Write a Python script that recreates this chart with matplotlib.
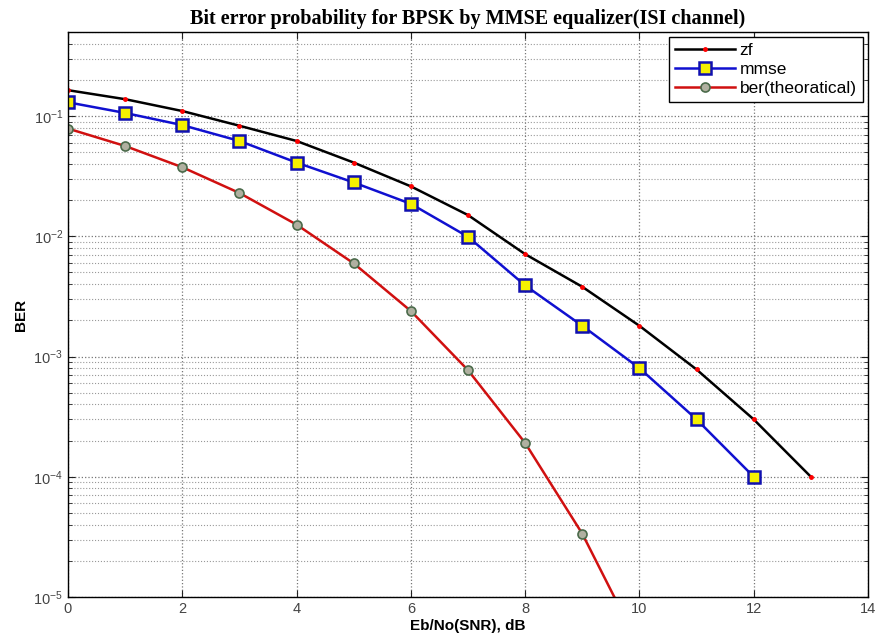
import matplotlib.pyplot as plt
from matplotlib.ticker import LogLocator, MultipleLocator, NullFormatter

# SNR points (dB)
snr_db = list(range(0, 14))
zf_ber = [0.164, 0.138, 0.11, 0.083, 0.062, 0.041, 0.026, 0.0150, 0.0071,
          0.0038, 0.0018, 0.00078, 0.0003, 0.0001]

mmse_snr = list(range(0, 13))
mmse_ber = [0.13, 0.106, 0.084, 0.062, 0.041, 0.028, 0.0186, 0.0099, 0.0039,
            0.0018, 0.0008, 0.0003, 0.0001]

theory_snr = list(range(0, 11))
theory_ber = [0.0786, 0.0563, 0.0375, 0.0229, 0.0125, 0.00595, 0.00239,
              0.00077, 0.000191, 0.0000336, 0.00000387]

plt.rcParams['font.family'] = ['Liberation Sans', 'DejaVu Sans']

fig = plt.figure(figsize=(8.75, 6.39), dpi=100)
ax = fig.add_axes([0.0777, 0.0657, 0.9143, 0.8843])

ax.semilogy(snr_db, zf_ber, color='black', linewidth=1.8, marker='.',
            markersize=5, markerfacecolor='red', markeredgecolor='red', label='zf')
ax.semilogy(mmse_snr, mmse_ber, color='#1010d0', linewidth=1.8, marker='s',
            markersize=8, markerfacecolor='#f5f000', markeredgecolor='#1010b0',
            markeredgewidth=1.8, label='mmse')
ax.semilogy(theory_snr, theory_ber, color='#d01010', linewidth=1.8, marker='o',
            markersize=6.5, markerfacecolor='#b0b0a0', markeredgecolor='#4a6a4a',
            markeredgewidth=1.2, label='ber(theoratical)')

ax.set_xlim(0, 14)
ax.set_ylim(1e-5, 0.5)
ax.xaxis.set_major_locator(MultipleLocator(2))
ax.yaxis.set_major_locator(LogLocator(base=10, numticks=10))
ax.yaxis.set_minor_locator(LogLocator(base=10, subs=range(2, 10), numticks=20))
ax.yaxis.set_minor_formatter(NullFormatter())

ax.grid(which='major', linestyle=':', color='#777777', linewidth=0.9)
ax.grid(which='minor', axis='y', linestyle=':', color='#999999', linewidth=0.8)
ax.tick_params(which='both', direction='in', top=True, right=True,
               labelsize=10.5, colors='#222222', labelcolor='#444444')
ax.tick_params(which='major', length=5)
ax.tick_params(which='minor', length=3)
for s in ax.spines.values():
    s.set_linewidth(1.0)

ax.set_title('Bit error probability for BPSK by MMSE equalizer(ISI channel)',
             family='Liberation Serif', fontweight='bold', fontsize=14.5, pad=6)
ax.set_xlabel('Eb/No(SNR), dB', fontweight='bold', fontsize=11, labelpad=2)
ax.set_ylabel('BER', fontweight='bold', fontsize=11, labelpad=4)

leg = ax.legend(loc='upper right', fontsize=12.5, fancybox=False, framealpha=1,
                edgecolor='black', borderpad=0.35, labelspacing=0.2,
                handlelength=3.4, handletextpad=0.3, borderaxespad=0.3)
leg.get_frame().set_linewidth(1.0)

fig.savefig('out.png', dpi=100)
